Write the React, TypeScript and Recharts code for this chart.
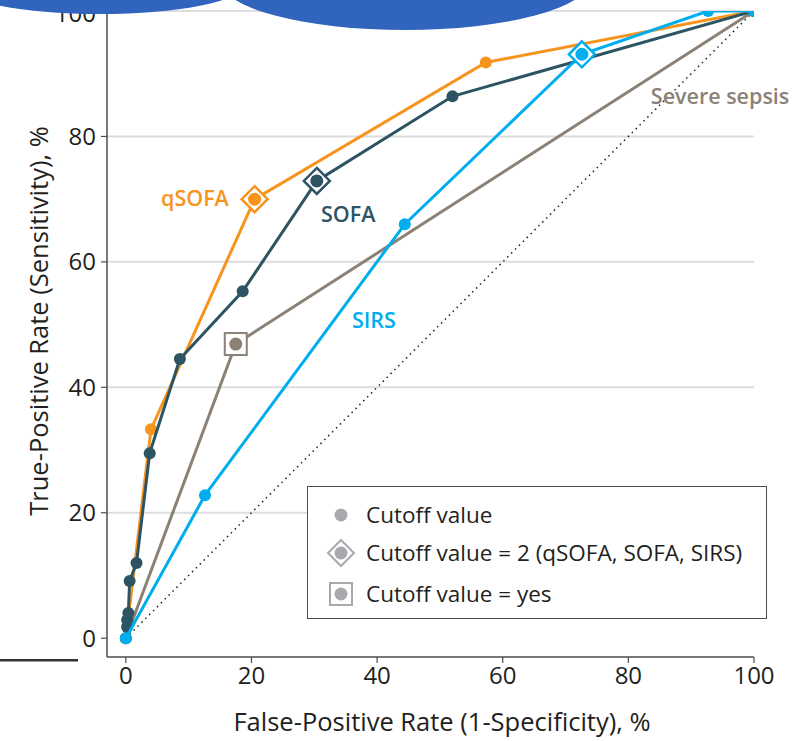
import React from 'react';
import { ScatterChart, Scatter, XAxis, YAxis, ReferenceLine, ReferenceDot } from 'recharts';

// ROC points (false-positive rate, true-positive rate), in %
const qsofaPoints = [
  { x: 0, y: 0 },
  { x: 4, y: 33.3 },
  { x: 20.5, y: 70 },
  { x: 57.3, y: 91.8 },
  { x: 100, y: 100 },
];
const sofaPoints = [
  { x: 0, y: 0 },
  { x: 0.2, y: 1.8 },
  { x: 0.2, y: 2.9 },
  { x: 0.4, y: 4 },
  { x: 0.6, y: 9.1 },
  { x: 1.7, y: 12 },
  { x: 3.8, y: 29.5 },
  { x: 8.6, y: 44.5 },
  { x: 18.6, y: 55.3 },
  { x: 30.4, y: 72.9 },
  { x: 52, y: 86.4 },
  { x: 100, y: 100 },
];
const sirsPoints = [
  { x: 0, y: 0 },
  { x: 12.6, y: 22.8 },
  { x: 44.4, y: 66 },
  { x: 72.6, y: 93.1 },
  { x: 92.7, y: 100 },
  { x: 100, y: 100 },
];
const severeSepsisPoints = [
  { x: 0, y: 0 },
  { x: 17.5, y: 46.9 },
  { x: 100, y: 100 },
];
const chanceLine = [
  { x: 0, y: 0 },
  { x: 100, y: 100 },
];

// highlighted cutoffs
const cutoffTwo = [
  { x: 20.5, y: 70, series: 'qSOFA' },
  { x: 30.4, y: 72.9, series: 'SOFA' },
  { x: 72.6, y: 93.1, series: 'SIRS' },
];
const cutoffYes = [{ x: 17.5, y: 46.9, series: 'Severe sepsis' }];

const seriesLabels = [
  { text: 'qSOFA', x: 11, y: 70.2, series: 'qSOFA' },
  { text: 'SOFA', x: 35.4, y: 67.6, series: 'SOFA' },
  { text: 'SIRS', x: 39.5, y: 50.7, series: 'SIRS' },
  { text: 'Severe sepsis', x: 94.6, y: 86.4, series: 'Severe sepsis' },
];

const legendItems = ['Cutoff value', 'Cutoff value = 2 (qSOFA, SOFA, SIRS)', 'Cutoff value = yes'];

const axisTicks = [0, 20, 40, 60, 80, 100];
const gridValues = [20, 40, 60, 80, 100];

const colors: Record<string, string> = {
  qSOFA: '#F7941E',
  SOFA: '#2C5463',
  SIRS: '#00AEEF',
  'Severe sepsis': '#8B8176',
};
const legendGray = '#A7A9AC';
const FONT = '"Open Sans", "Noto Sans", sans-serif';

const dot = (color: string, r = 6) => (props: any) =>
  <circle cx={props.cx} cy={props.cy} r={r} fill={color} />;

const noDot = () => <g />;

const Diamond = (props: any) => {
  const { cx, cy, payload } = props;
  const c = colors[payload.series];
  const d = 13;
  return (
    <g>
      <path d={`M${cx},${cy - d} L${cx + d},${cy} L${cx},${cy + d} L${cx - d},${cy} Z`} fill="#fff" stroke={c} strokeWidth={2.5} />
      <circle cx={cx} cy={cy} r={6.5} fill={c} />
    </g>
  );
};

const Square = (props: any) => {
  const { cx, cy, payload } = props;
  const c = colors[payload.series];
  const h = 11;
  return (
    <g>
      <rect x={cx - h} y={cy - h} width={h * 2} height={h * 2} fill="#fff" stroke={c} strokeWidth={2} />
      <circle cx={cx} cy={cy} r={6.5} fill={c} />
    </g>
  );
};

const tickStyle = { fontSize: 24, fill: '#231F20', fontFamily: FONT };

export default function App() {
  return (
    <div style={{ position: 'absolute', left: 0, top: 0, width: 795, height: 741, background: '#fff', fontFamily: FONT, overflow: 'hidden' }}>
      <ScatterChart width={795} height={741} margin={{ top: 11, right: 41, bottom: 0, left: 0 }}>
        <XAxis
          type="number"
          dataKey="x"
          domain={[-3, 100]}
          ticks={axisTicks}
          tickSize={6}
          tickMargin={4}
          height={84}
          tick={tickStyle}
          axisLine={{ stroke: '#4D4D4F', strokeWidth: 1.5 }}
          tickLine={{ stroke: '#4D4D4F', strokeWidth: 1.2 }}
          allowDataOverflow
        />
        <YAxis
          type="number"
          dataKey="y"
          domain={[-3, 100]}
          ticks={axisTicks}
          tickSize={6}
          tickMargin={5}
          width={107}
          tick={tickStyle}
          axisLine={{ stroke: '#4D4D4F', strokeWidth: 1.5 }}
          tickLine={{ stroke: '#4D4D4F', strokeWidth: 1.2 }}
          allowDataOverflow
        />
        {gridValues.map((v) => (
          <ReferenceLine key={v} y={v} stroke="#DCDDDE" strokeWidth={2} />
        ))}

        <Scatter data={chanceLine} line={{ stroke: '#231F20', strokeWidth: 1.5, strokeDasharray: '1.5 4' }} lineType="joint" shape={noDot} isAnimationActive={false} />
        <Scatter data={severeSepsisPoints} line={{ stroke: colors['Severe sepsis'], strokeWidth: 3 }} lineType="joint" shape={noDot} isAnimationActive={false} />
        <Scatter data={qsofaPoints} line={{ stroke: colors.qSOFA, strokeWidth: 3 }} lineType="joint" shape={dot(colors.qSOFA)} isAnimationActive={false} />
        <Scatter data={sofaPoints} line={{ stroke: colors.SOFA, strokeWidth: 3 }} lineType="joint" shape={dot(colors.SOFA)} isAnimationActive={false} />
        <Scatter data={sirsPoints} line={{ stroke: colors.SIRS, strokeWidth: 3 }} lineType="joint" shape={dot(colors.SIRS)} isAnimationActive={false} />

        <Scatter data={cutoffYes} shape={Square} isAnimationActive={false} />
        <Scatter data={cutoffTwo} shape={Diamond} isAnimationActive={false} />

        {seriesLabels.map((l) => (
          <ReferenceDot
            key={l.text}
            x={l.x}
            y={l.y}
            r={0}
            stroke="none"
            fill="none"
            label={{ value: l.text, position: 'center', fill: colors[l.series], fontSize: 21.5, fontWeight: 600, fontFamily: FONT }}
          />
        ))}
      </ScatterChart>

      {/* axis titles */}
      <div style={{ position: 'absolute', left: 0, top: 704, width: 884, textAlign: 'center', fontSize: 25.5, color: '#231F20', lineHeight: '34px' }}>
        False-Positive Rate (1-Specificity), %
      </div>
      <div style={{ position: 'absolute', left: 38, top: 321, width: 0, height: 0 }}>
        <div style={{ position: 'absolute', left: -300, top: -17, width: 600, textAlign: 'center', fontSize: 25.5, color: '#231F20', lineHeight: '34px', transform: 'rotate(-90deg)' }}>
          True-Positive Rate (Sensitivity), %
        </div>
      </div>

      {/* legend */}
      <div style={{ position: 'absolute', left: 307, top: 486, width: 458, height: 131, border: '1.5px solid #4D4D4F', background: '#fff' }}>
        <svg width={60} height={131} style={{ position: 'absolute', left: 0, top: 0 }}>
          <circle cx={33} cy={28} r={6.5} fill={legendGray} />
          <path d="M33,53 L46,66 L33,79 L20,66 Z" fill="#fff" stroke={legendGray} strokeWidth={2} />
          <circle cx={33} cy={66} r={6.5} fill={legendGray} />
          <rect x={22} y={96} width={22} height={22} fill="#fff" stroke={legendGray} strokeWidth={2} />
          <circle cx={33} cy={107} r={6.5} fill={legendGray} />
        </svg>
        {legendItems.map((t, i) => (
          <div key={t} style={{ position: 'absolute', left: 58, top: [28, 66, 107][i] - 16, fontSize: 22.5, lineHeight: '32px', color: '#231F20', whiteSpace: 'nowrap' }}>
            {t}
          </div>
        ))}
      </div>

      {/* overlays at the edges of the original image */}
      <svg width={795} height={741} style={{ position: 'absolute', left: 0, top: 0, pointerEvents: 'none' }}>
        <ellipse cx={100} cy={-16} rx={145} ry={30} fill="#3164BC" />
        <ellipse cx={405} cy={-20} rx={185} ry={50} fill="#3164BC" />
        <rect x={0} y={659} width={78} height={2.5} fill="#333" />
      </svg>
    </div>
  );
}
